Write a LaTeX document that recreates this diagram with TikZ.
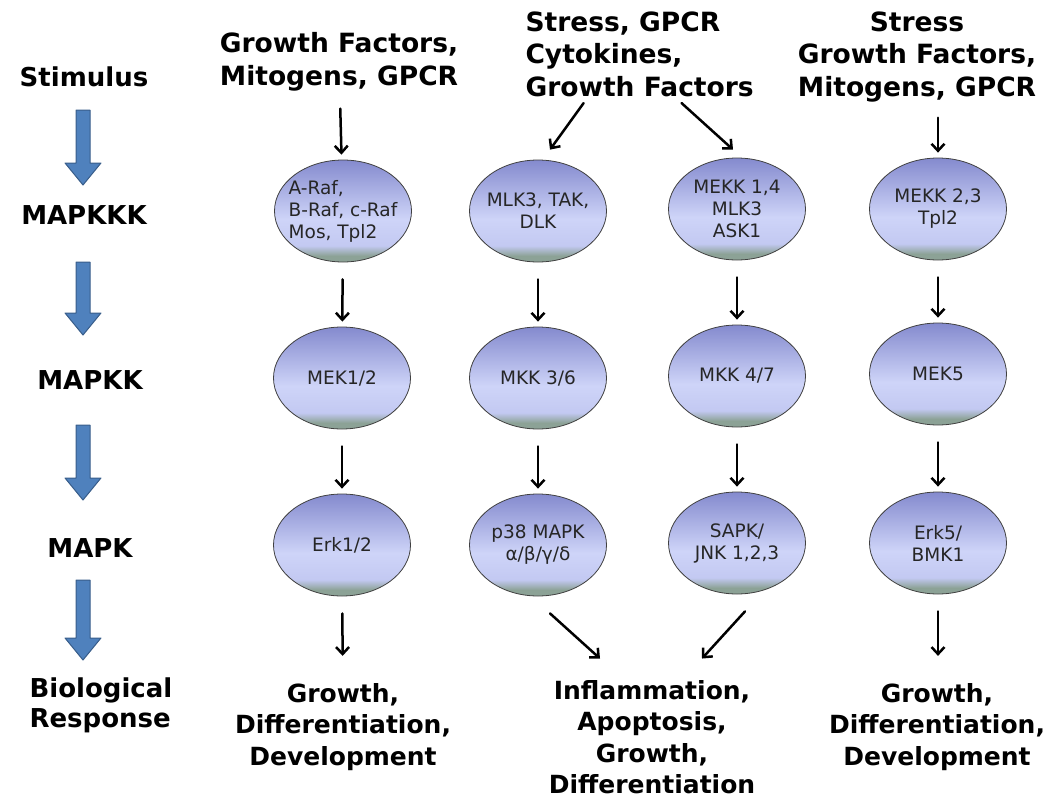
\documentclass[tikz,border=0pt]{standalone}
\usepackage{fontspec}
\setmainfont{DejaVu Sans}
\usetikzlibrary{arrows.meta}
\usetikzlibrary{shapes.geometric}
\usetikzlibrary{positioning}
\definecolor{elltop}{RGB}{132,138,206}
\definecolor{ellmid}{RGB}{206,212,248}
\definecolor{ellbot}{RGB}{140,162,150}
\definecolor{blockblue}{RGB}{79,129,189}
\definecolor{blockedge}{RGB}{56,93,138}
\pgfdeclareverticalshading{ellshade}{100bp}{color(0bp)=(ellbot); color(28bp)=(ellbot); color(33bp)=(ellmid!85!elltop); color(46bp)=(ellmid); color(75bp)=(elltop); color(100bp)=(elltop)}

\begin{document}
\begin{tikzpicture}[x=1pt,y=-1pt,line cap=round,line join=round,
    kinase/.style={ellipse,draw=black!75,line width=0.8pt,shading=ellshade,
      minimum width=137pt,minimum height=102pt,inner sep=0pt,inner xsep=-22pt,
      align=center,font=\fontsize{18.5}{22}\selectfont,text=black!85},
    head/.style={font=\bfseries\fontsize{26.5}{32.5}\selectfont,align=center},
    resp/.style={font=\bfseries\fontsize{25}{31.5}\selectfont,align=center},
    level/.style={font=\bfseries\fontsize{26}{30}\selectfont},
    sig/.style={-{Straight Barb[length=7pt,width=13pt]},line width=2.5pt}]
  \useasboundingbox (0,0) rectangle (1053,803);
  % stimulus and response labels
  \node[level] (stim) at (84,77) {Stimulus};
  \node[level] (kkk) at (84,215) {MAPKKK};
  \node[level] (kk) at (90,380) {MAPKK};
  \node[level] (k) at (90,548) {MAPK};
  \node[level,align=left,anchor=west] (bio) at (26,705) {Biological\\Response};
  \foreach \t/\b in {110/185,262/335,425/500,580/660}
    \draw[blockedge,fill=blockblue,line width=1pt] (76,\t) -- (90,\t) -- (90,\b-22)
      -- (101,\b-22) -- (83,\b) -- (65,\b-22) -- (76,\b-22) -- cycle;
  % stimuli
  \node[head] (gfA) at (339,62) {Growth Factors,\\Mitogens, GPCR};
  \node[head,align=left,anchor=north west] (stressA) at (522,8) {Stress, GPCR\\Cytokines,\\Growth Factors};
  \node[head] (gfB) at (917,57) {Stress\\Growth Factors,\\Mitogens, GPCR};
  % kinases
  \node[kinase,align=left] (raf) at (343,211) {A-Raf,\\B-Raf, c-Raf\\Mos, Tpl2};
  \node[kinase] (mlk) at (538,211) {MLK3, TAK,\\DLK};
  \node[kinase] (mekkA) at (737,209) {MEKK 1,4\\MLK3\\ASK1};
  \node[kinase] (mekkB) at (938,209) {MEKK 2,3\\Tpl2};
  \node[kinase] (mek12) at (342,378) {MEK1/2};
  \node[kinase] (mkk36) at (538,378) {MKK 3/6};
  \node[kinase] (mkk47) at (737,376) {MKK 4/7};
  \node[kinase] (mek5) at (938,374) {MEK5};
  \node[kinase] (erk12) at (342,545) {Erk1/2};
  \node[kinase] (p38) at (538,545) {p38 MAPK\\α/β/γ/δ};
  \node[kinase] (sapk) at (737,543) {SAPK/\\JNK 1,2,3};
  \node[kinase] (erk5) at (938,543) {Erk5/\\BMK1};
  % responses
  \node[resp] (respA) at (343,727) {Growth,\\Differentiation,\\Development};
  \node[resp] (respB) at (652,737) {Inflammation,\\Apoptosis,\\Growth,\\Differentiation};
  \node[resp] (respC) at (937,727) {Growth,\\Differentiation,\\Development};
  % cascades
  \draw[sig,shorten <=14pt,shorten >=5pt] (gfA) -- (raf);
  \draw[sig,shorten <=12pt,shorten >=5pt] (gfB.south -| mekkB) -- (mekkB);
  \draw[sig] ([xshift=-56pt,yshift=-3pt]stressA.south) -- ([xshift=12pt,yshift=10pt]mlk.north);
  \draw[sig] ([xshift=42pt,yshift=-3pt]stressA.south) -- ([xshift=-4pt,yshift=8pt]mekkA.north);
  \foreach \a/\b in {raf/mek12,mek12/erk12,mlk/mkk36,mkk36/p38,mekkA/mkk47,mkk47/sapk,mekkB/mek5,mek5/erk5}
    \draw[sig,shorten <=17pt,shorten >=5pt] (\a) -- (\b);
  \draw[sig,shorten <=17pt,shorten >=24pt] (erk12) -- (respA);
  \draw[sig,shorten <=17pt,shorten >=24pt] (erk5) -- (respC.north -| erk5);
  \draw[sig] ([xshift=12pt,yshift=-17pt]p38.south) -- ([xshift=-52pt,yshift=18pt]respB.north);
  \draw[sig] ([xshift=8pt,yshift=-17pt]sapk.south) -- ([xshift=50pt,yshift=18pt]respB.north);
\end{tikzpicture}
\end{document}
